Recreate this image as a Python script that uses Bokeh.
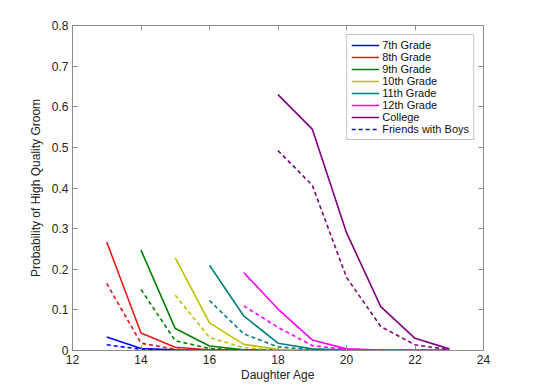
from bokeh.plotting import figure
from bokeh.models import LinearAxis, Legend, LegendItem, FixedTicker, Range1d
from bokeh.embed import file_html
from bokeh.resources import INLINE

# ---- data ----
series_names = ["7th Grade", "8th Grade", "9th Grade", "10th Grade",
                "11th Grade", "12th Grade", "College"]
series_colors = ["#0000ff", "#e8191b", "#008000", "#bfbf00",
                 "#008080", "#ff00ff", "#800080"]
start_ages = [13, 13, 14, 15, 16, 17, 18]

solid_7th = [0.033, 0.005, 0.002, 0.001, 0.0, 0.0, 0.0, 0.0, 0.0, 0.0, 0.0]
solid_8th = [0.267, 0.043, 0.008, 0.002, 0.001, 0.0, 0.0, 0.0, 0.0, 0.0, 0.0]
solid_9th = [0.247, 0.054, 0.011, 0.002, 0.001, 0.0, 0.0, 0.0, 0.0, 0.0]
solid_10th = [0.228, 0.068, 0.015, 0.003, 0.001, 0.0, 0.0, 0.0, 0.0]
solid_11th = [0.210, 0.085, 0.018, 0.004, 0.001, 0.0, 0.0, 0.0]
solid_12th = [0.192, 0.102, 0.026, 0.004, 0.001, 0.0, 0.0]
solid_college = [0.630, 0.545, 0.290, 0.108, 0.030, 0.004]

dash_7th = [0.014, 0.003, 0.001, 0.0, 0.0, 0.0, 0.0, 0.0, 0.0, 0.0, 0.0]
dash_8th = [0.165, 0.018, 0.003, 0.001, 0.0, 0.0, 0.0, 0.0, 0.0, 0.0, 0.0]
dash_9th = [0.150, 0.024, 0.005, 0.001, 0.0, 0.0, 0.0, 0.0, 0.0, 0.0]
dash_10th = [0.136, 0.032, 0.007, 0.001, 0.0, 0.0, 0.0, 0.0, 0.0]
dash_11th = [0.123, 0.041, 0.009, 0.002, 0.0, 0.0, 0.0, 0.0]
dash_12th = [0.110, 0.057, 0.012, 0.002, 0.0, 0.0, 0.0]
dash_college = [0.492, 0.407, 0.180, 0.059, 0.014, 0.002]

solid_values = [solid_7th, solid_8th, solid_9th, solid_10th,
                solid_11th, solid_12th, solid_college]
dash_values = [dash_7th, dash_8th, dash_9th, dash_10th,
               dash_11th, dash_12th, dash_college]

x_ticks = [12, 14, 16, 18, 20, 22, 24]
y_ticks = [0, 0.1, 0.2, 0.3, 0.4, 0.5, 0.6, 0.7, 0.8]

FONT = "Liberation Sans"
AXIS_GRAY = "#8c8c8c"

p = figure(frame_width=411, frame_height=325,
           x_range=Range1d(12, 24), y_range=Range1d(0, 0.8),
           output_backend="svg", toolbar_location=None,
           min_border_left=72, min_border_top=25,
           min_border_right=50, min_border_bottom=38)
p.xgrid.visible = False
p.ygrid.visible = False
p.outline_line_color = AXIS_GRAY
p.background_fill_color = "white"
p.border_fill_color = "white"

def style_axis(ax):
    ax.axis_line_color = AXIS_GRAY
    ax.major_tick_line_color = AXIS_GRAY
    ax.major_tick_in = 5
    ax.major_tick_out = 0
    ax.minor_tick_line_color = None
    ax.major_label_text_font = FONT
    ax.major_label_text_font_size = "12px"
    ax.major_label_text_color = "#222222"
    ax.axis_label_text_font = FONT
    ax.axis_label_text_font_size = "12px"
    ax.axis_label_text_font_style = "normal"
    ax.axis_label_text_color = "#222222"

xa = p.xaxis[0]
xa.ticker = FixedTicker(ticks=x_ticks)
xa.axis_label = "Daughter Age"
xa.major_label_standoff = 4
xa.axis_label_standoff = 1
style_axis(xa)

ya = p.yaxis[0]
ya.ticker = FixedTicker(ticks=y_ticks)
ya.axis_label = "Probability of High Quality Groom"
ya.major_label_standoff = 4
ya.axis_label_standoff = 6
ya.major_label_overrides = {0: "0"}
style_axis(ya)

# box-style axes on top and right: ticks only, no labels
top = LinearAxis(ticker=FixedTicker(ticks=x_ticks))
style_axis(top)
top.major_label_text_font_size = "1px"
top.major_label_overrides = {t: "" for t in x_ticks}
top.major_label_standoff = 0
p.add_layout(top, "above")
right = LinearAxis(ticker=FixedTicker(ticks=y_ticks))
style_axis(right)
right.major_label_text_font_size = "1px"
right.major_label_overrides = {t: "" for t in y_ticks}
right.major_label_standoff = 0
p.add_layout(right, "right")

items = []
for name, color, start, sv, dv in zip(series_names, series_colors,
                                      start_ages, solid_values, dash_values):
    xs = list(range(start, start + len(sv)))
    xd = list(range(start, start + len(dv)))
    r = p.line(xs, sv, line_color=color, line_width=1.6)
    p.line(xd, dv, line_color=color, line_width=1.6, line_dash="4 3")
    items.append(LegendItem(label=name, renderers=[r]))

# legend entry for the dashed style
dummy = p.line([12.0, 12.0], [-1.0, -1.0], line_color="#0000ff",
               line_width=1.6, line_dash="4 3")
items.append(LegendItem(label="Friends with Boys", renderers=[dummy]))

legend = Legend(items=items, location="top_right")
legend.label_text_font = FONT
legend.label_text_font_size = "11px"
legend.label_text_color = "#111111"
legend.label_height = 12
legend.glyph_height = 12
legend.glyph_width = 28
legend.spacing = 0
legend.padding = 4
legend.margin = 9
legend.label_standoff = 3
legend.border_line_color = AXIS_GRAY
legend.background_fill_alpha = 1.0
p.add_layout(legend)

open("out.html", "w").write(file_html(p, INLINE))
